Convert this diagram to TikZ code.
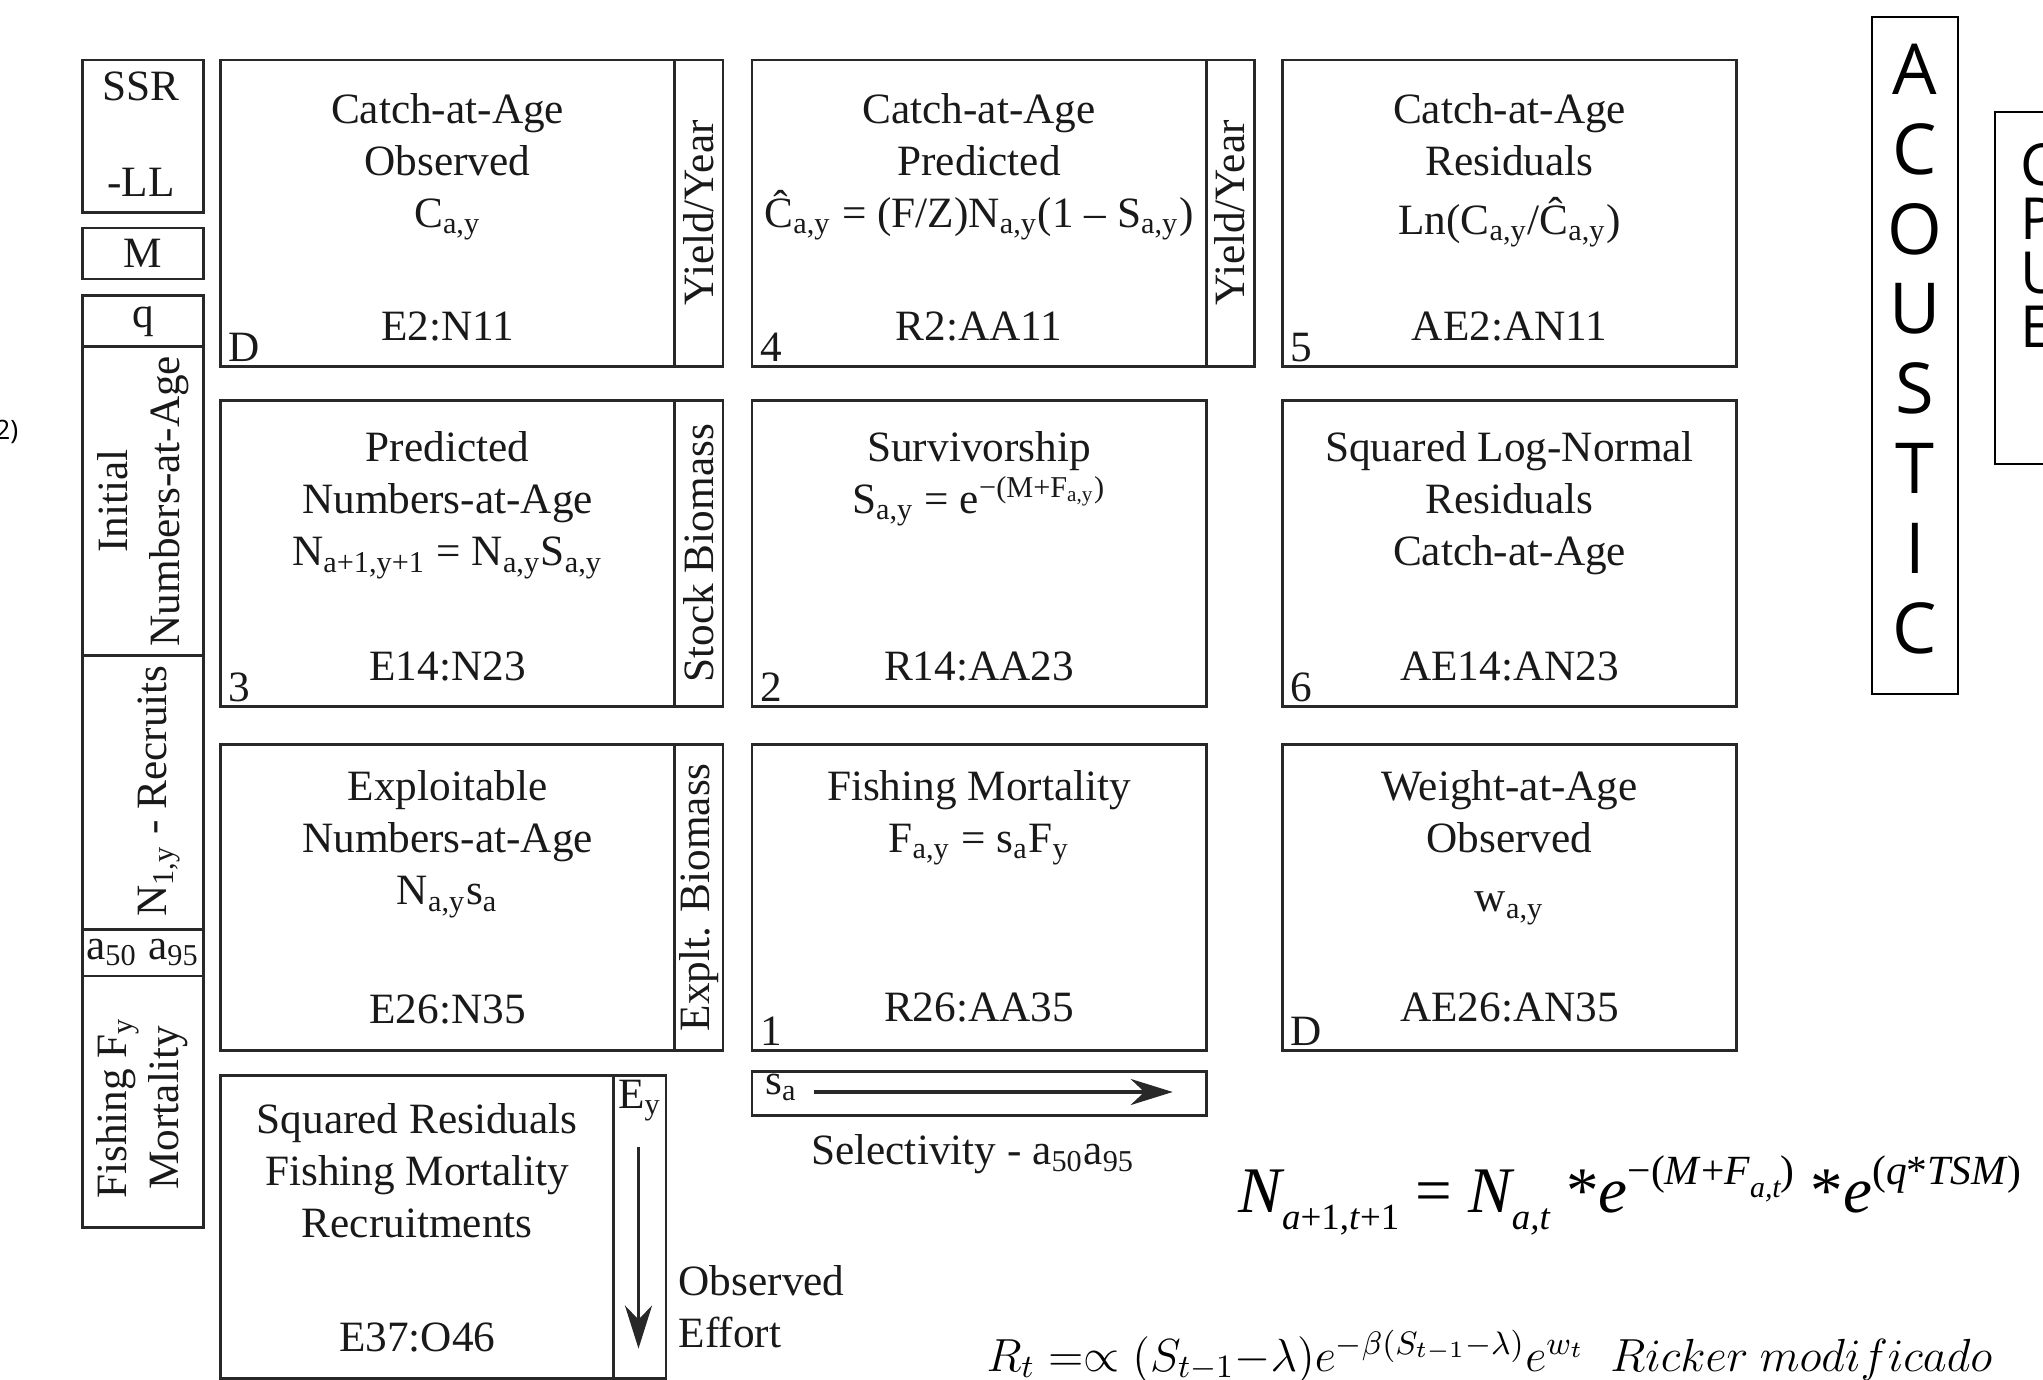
\documentclass[tikz,border=0pt]{standalone}
\usepackage{fix-cm}
\usepackage{amsmath, amssymb}
\usepackage{fontspec}
\setmainfont{Liberation Serif}
\newfontfamily\sansletters{Open Sans}
\usetikzlibrary{arrows.meta, positioning}

\definecolor{boxline}{RGB}{40, 40, 40}
\definecolor{inktext}{RGB}{25, 25, 25}

\newcommand{\boxfont}{\fontsize{12.3}{14.8}\selectfont}
\newcommand{\nrecfont}{\fontsize{18.5}{20}\selectfont}
\newcommand{\nrecsub}{\fontsize{10.5}{12}\selectfont}
\newcommand{\nrecsup}{\fontsize{11.8}{13}\selectfont}

\tikzset{
  cellbox/.style={draw=boxline, line width=0.8pt, anchor=north west, inner sep=0pt, minimum width=4.54cm, minimum height=3.06cm},
  stripbox/.style={cellbox, minimum width=0.485cm},
  sidebox/.style={draw=boxline, line width=0.8pt, anchor=north west, inner sep=0pt, minimum width=1.212cm},
  celltitle/.style={align=center, inner sep=0pt, font=\boxfont, text=inktext},
  cellref/.style={inner sep=0pt, font=\boxfont, text=inktext},
  cellno/.style={anchor=south west, inner xsep=2.5pt, inner ysep=1.5pt, font=\boxfont, text=inktext},
  vlabel/.style={rotate=90, align=center, inner sep=0pt, font=\boxfont, text=inktext},
  tallbox/.style={draw=black, line width=0.6pt, anchor=north west, inner sep=0pt},
}

\begin{document}
\begin{tikzpicture}[x=0.01cm, y=-0.01cm]
  \useasboundingbox (0,0) rectangle (2043,1380);
  \clip (0,0) rectangle (2043,1380);

  % figure number, cut by the margin
  \node[anchor=east, inner sep=0pt, font=\sansletters\fontsize{7.6}{9}\selectfont] (fignum) at (19,432) {2)};

  % parameter column
  \node[sidebox, minimum height=1.524cm] (ssr) at (80.8,58.6) {};
  \node[sidebox, minimum height=0.508cm] (mnat) at (80.8,226.7) {};
  \node[sidebox, minimum height=0.508cm] (qcatch) at (80.8,294.5) {};
  \node[sidebox, minimum height=3.087cm] (initnum) at (80.8,345.3) {};
  \node[sidebox, minimum height=2.737cm] (recruits) at (80.8,654) {};
  \node[sidebox, minimum height=0.469cm] (sel50) at (80.8,927.7) {};
  \node[sidebox, minimum height=2.514cm] (fishing) at (80.8,974.6) {};

  \node[cellref] (ssrlbl) at (141,86) {SSR};
  \node[cellref] (lllbl) at (141,182) {-LL};
  \node[cellref] (mlbl) at (mnat.center) {M};
  \node[cellref] (qlbl) at (qcatch.center) {q};
  \node[vlabel] (initlbl) at (initnum.center) {Initial\\Numbers-at-Age};
  \node[vlabel] (reclbl) at (159,791) {N\textsubscript{1,y} - Recruits};
  \node[cellref] (sellbl) at (sel50.center) {a\textsubscript{50} a\textsubscript{95}};
  \node[vlabel] (fishlbl) at (142,1108) {Fishing F\textsubscript{y}\\Mortality};

  % first row
  \node[cellbox] (catchobs) at (219,58.6) {};
  \node[stripbox] (yieldobs) at (673,58.6) {};
  \node[cellbox] (catchpred) at (750.5,58.6) {};
  \node[stripbox] (yieldpred) at (1204.5,58.6) {};
  \node[cellbox] (catchres) at (1281,58.6) {};

  \node[celltitle, below=0.34cm of catchobs.north] (catchobstxt) {Catch-at-Age\\Observed\\C\textsubscript{a,y}};
  \node[cellref, above=0.26cm of catchobs.south] (catchobsrng) {E2:N11};
  \node[cellno] (catchobsno) at (catchobs.south west) {D};
  \node[vlabel] (yieldobslbl) at (yieldobs.center) {Yield/Year};

  \node[celltitle, below=0.34cm of catchpred.north] (catchpredtxt) {Catch-at-Age\\Predicted\\\^{C}\textsubscript{a,y} = (F/Z)N\textsubscript{a,y}(1 \textendash{} S\textsubscript{a,y})};
  \node[cellref, above=0.26cm of catchpred.south] (catchpredrng) {R2:AA11};
  \node[cellno] (catchpredno) at (catchpred.south west) {4};
  \node[vlabel] (yieldpredlbl) at (yieldpred.center) {Yield/Year};

  \node[celltitle, below=0.34cm of catchres.north] (catchrestxt) {Catch-at-Age\\Residuals\\[2pt]Ln(C\textsubscript{a,y}/\^{C}\textsubscript{a,y})};
  \node[cellref, above=0.26cm of catchres.south] (catchresrng) {AE2:AN11};
  \node[cellno] (catchresno) at (catchres.south west) {5};

  % second row
  \node[cellbox] (numpred) at (219,398.7) {};
  \node[stripbox] (stockbio) at (673,398.7) {};
  \node[cellbox] (surv) at (750.5,398.7) {};
  \node[cellbox] (sqlog) at (1281,398.7) {};

  \node[celltitle, below=0.32cm of numpred.north] (numpredtxt) {Predicted\\Numbers-at-Age\\N\textsubscript{a+1,y+1} = N\textsubscript{a,y}S\textsubscript{a,y}};
  \node[cellref, above=0.26cm of numpred.south] (numpredrng) {E14:N23};
  \node[cellno] (numpredno) at (numpred.south west) {3};
  \node[vlabel] (stockbiolbl) at (stockbio.center) {Stock Biomass};

  \node[celltitle, below=0.32cm of surv.north] (survtxt) {Survivorship\\S\textsubscript{a,y} = e\textsuperscript{−(M+F\textsubscript{a,y})}};
  \node[cellref, above=0.26cm of surv.south] (survrng) {R14:AA23};
  \node[cellno] (survno) at (surv.south west) {2};

  \node[celltitle, below=0.32cm of sqlog.north] (sqlogtxt) {Squared Log-Normal\\Residuals\\Catch-at-Age};
  \node[cellref, above=0.26cm of sqlog.south] (sqlogrng) {AE14:AN23};
  \node[cellno] (sqlogno) at (sqlog.south west) {6};

  % third row
  \node[cellbox] (explnum) at (219,742.7) {};
  \node[stripbox] (expltbio) at (673,742.7) {};
  \node[cellbox] (fishmort) at (750.5,742.7) {};
  \node[cellbox] (weight) at (1281,742.7) {};

  \node[celltitle, below=0.27cm of explnum.north] (explnumtxt) {Exploitable\\Numbers-at-Age\\N\textsubscript{a,y}s\textsubscript{a}};
  \node[cellref, above=0.27cm of explnum.south] (explnumrng) {E26:N35};
  \node[vlabel] (expltbiolbl) at (expltbio.center) {Explt. Biomass};

  \node[celltitle, below=0.27cm of fishmort.north] (fishmorttxt) {Fishing Mortality\\F\textsubscript{a,y} = s\textsubscript{a}F\textsubscript{y}};
  \node[cellref, above=0.29cm of fishmort.south] (fishmortrng) {R26:AA35};
  \node[cellno] (fishmortno) at (fishmort.south west) {1};

  \node[celltitle, below=0.27cm of weight.north] (weighttxt) {Weight-at-Age\\Observed\\[2pt]w\textsubscript{a,y}};
  \node[cellref, above=0.29cm of weight.south] (weightrng) {AE26:AN35};
  \node[cellno] (weightno) at (weight.south west) {D};

  % fourth row
  \node[cellbox, minimum width=3.934cm, minimum height=3.033cm] (sqres) at (219,1073.7) {};
  \node[stripbox, minimum width=0.521cm, minimum height=3.033cm] (effort) at (612.4,1073.7) {};

  \node[celltitle, below=0.29cm of sqres.north] (sqrestxt) {Squared Residuals\\Fishing Mortality\\Recruitments};
  \node[cellref, above=0.27cm of sqres.south] (sqresrng) {E37:O46};
  \node[anchor=north, inner sep=1.5pt, font=\boxfont, text=inktext] (efflbl) at (effort.north) {E\textsubscript{y}};
  \coordinate (efftop) at (638.5,1146.6);
  \coordinate (effbot) at (638.5,1348.6);
  \draw[-{Stealth[length=4.3mm, width=2.7mm]}, line width=1.1pt, boxline] (efftop) -- (effbot);
  \node[anchor=west, align=left, inner sep=0pt, font=\boxfont, text=inktext] (obseff) at (678,1307) {Observed\\Effort};

  % selectivity bar
  \node[cellbox, minimum height=0.442cm] (selbar) at (750.5,1069.8) {};
  \node[anchor=north west, inner sep=1pt, xshift=3pt, font=\boxfont, text=inktext] (salbl) at (selbar.north west) {s\textsubscript{a}};
  \coordinate (sastart) at (814,1092);
  \coordinate (saend) at (1172.7,1092);
  \draw[-{Stealth[length=4.2mm, width=2.6mm]}, line width=1.1pt, boxline] (sastart) -- (saend);
  \node[cellref, below=0.17cm of selbar, xshift=-0.06cm] (selname) {Selectivity - a\textsubscript{50}a\textsubscript{95}};

  % survey indices
  \node[tallbox, minimum width=0.86cm, minimum height=6.774cm] (acoustic) at (1871,15.6) {};
  \node[align=center, inner sep=0pt, font=\sansletters\fontsize{20}{22.7}\selectfont] (acousticlbl) at (1915,349) {A\\C\\O\\U\\S\\T\\I\\C};
  \node[tallbox, minimum width=1cm, minimum height=3.518cm] (cpue) at (1993.6,110.8) {};
  \node[anchor=north west, align=left, inner sep=0pt, font=\sansletters\fontsize{16.5}{15.3}\selectfont] (cpuelbl) at (2020,143) {C\\P\\U\\E};

  % equations
  \node[anchor=base west, inner sep=0pt] (nrec) at (1238,1212) {\nrecfont\itshape N\raisebox{-0.27em}{\nrecsub a\textup{+1,}t\textup{+1}}\textup{ = }N\raisebox{-0.27em}{\nrecsub a,t}\textup{ *}e\raisebox{0.42em}{\nrecsup\textup{−(}M\textup{+}F\raisebox{-0.3em}{\fontsize{8.5}{9}\selectfont a,t}\textup{)}}\textup{ *}e\raisebox{0.42em}{\nrecsup\textup{(}q\textup{*}TSM\textup{)}}};
  \node[anchor=base west, inner sep=0pt] (ricker) at (986,1371) {\fontsize{13.2}{15}\selectfont $R_t =\propto (S_{t-1}{-}\lambda)e^{-\beta(S_{t-1}{-}\lambda)}e^{w_t}\hspace{0.55em}Ricker\ modificado$};
\end{tikzpicture}
\end{document}
